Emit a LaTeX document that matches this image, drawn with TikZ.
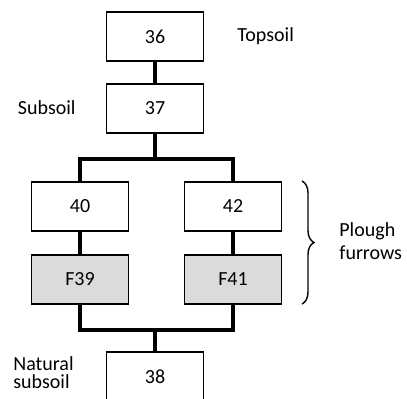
\documentclass[tikz,border=0pt]{standalone}
\usepackage{fontspec}
\setmainfont{Carlito}
\usetikzlibrary{positioning,decorations.pathreplacing}

\begin{document}
\begin{tikzpicture}[x=0.5pt,y=-0.5pt,
ctx/.style={draw,line width=0.8pt,minimum width=48.5pt,minimum height=24.5pt,inner sep=0pt,font=\fontsize{10}{12}\selectfont},
fur/.style={ctx,fill=black!14},
lbl/.style={font=\fontsize{10}{11.3}\selectfont,align=left,inner sep=0pt},
link/.style={line width=1.8pt}]
\clip (0,0) rectangle (407,398);

\node[ctx] (n36) at (155,36.5) {36};
\node[ctx] (n37) at (155,108.5) {37};
\node[ctx] (n40) at (80,206.5) {40};
\node[ctx] (n42) at (233,206.5) {42};
\node[fur] (f39) at (80,279.5) {F39};
\node[fur] (f41) at (233,279.5) {F41};
\node[ctx] (n38) at (155,376.5) {38};

\coordinate (split) at (155,159);
\coordinate (join) at (155,330);
\coordinate (brtop) at (302,181);
\coordinate (brbot) at (302,304);

\draw[link] (n36)--(n37);
\draw[link] (n37)--(split);
\draw[link] (n40) |- (split) -| (n42);
\draw[link] (n40)--(f39);
\draw[link] (n42)--(f41);
\draw[link] (f39) |- (join) -| (f41);
\draw[link] (join)--(n38);

\draw[line width=0.7pt,decorate,decoration={brace,amplitude=6pt}] (brtop)--(brbot);

\node[lbl,anchor=west] (top) at (237,36) {Topsoil};
\node[lbl,anchor=east] (sub) at (76,108) {Subsoil};
\node[lbl,anchor=west] (plough) at (339,241) {Plough\\furrows};
\node[lbl,anchor=west,font=\fontsize{10}{9}\selectfont] (nat) at (13,373) {Natural\\subsoil};
\end{tikzpicture}
\end{document}
